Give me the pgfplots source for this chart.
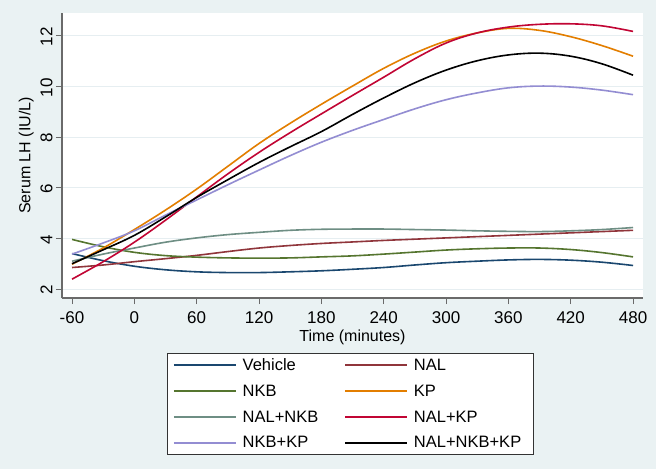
\documentclass[border=0pt]{standalone}
\usepackage{pgfplots}
\pgfplotsset{compat=1.18}
\usepackage{fontspec}
\setmainfont{Liberation Sans}
\definecolor{bgc}{HTML}{EAF2F3}
\definecolor{gridc}{HTML}{E6EEF1}
\definecolor{axc}{HTML}{6A6A6A}
\definecolor{cveh}{HTML}{1A476F}
\definecolor{cnal}{HTML}{90353B}
\definecolor{cnkb}{HTML}{55752F}
\definecolor{ckp}{HTML}{E37E00}
\definecolor{cnalnkb}{HTML}{6E8E84}
\definecolor{cnalkp}{HTML}{C10534}
\definecolor{cnkbkp}{HTML}{938DD2}
\begin{document}
\begin{tikzpicture}[x=1pt,y=1pt]
\fill[bgc] (0,0) rectangle (656,-469);
\begin{axis}[
  at={(62pt,-298pt)}, anchor=south west,
  scale only axis, width=581pt, height=285pt,
  xmin=-69.65, xmax=489.6, ymin=1.645, ymax=12.907,
  axis lines*=left,
  axis line style={-, draw=axc, line width=1.1pt},
  axis background/.style={fill=white},
  xtick={-60,0,60,...,480}, ytick={2,4,...,12},
  tick align=outside, major tick length=6pt,
  tick style={draw=axc, line width=1pt},
  ymajorgrids, grid style={draw=gridc, line width=1pt},
  /pgf/number format/assume math mode=true,
  ticklabel style={font=\fontsize{17}{20}\selectfont},
  yticklabel style={rotate=90, anchor=south, xshift=-1pt},
  xticklabel style={yshift=-4pt},
  xlabel={Time (minutes)}, ylabel={Serum LH (IU/L)},
  label style={font=\fontsize{16}{19}\selectfont},
  xlabel style={yshift=1pt},
  ylabel style={yshift=0pt},
  clip=false,
  legend columns=2,
  legend cell align=left,
  legend image code/.code={\draw[#1, line width=1.6pt] (0pt,0pt) -- (62pt,0pt);},
  legend style={at={(axis description cs:0.496,-0.193)}, anchor=north,
    draw=black!80, line width=0.8pt, fill=white,
    font=\fontsize{16.5}{19}\selectfont,
    inner xsep=6pt, inner ysep=5pt,
    row sep=13pt,
    /tikz/every even column/.append style={column sep=20pt},
    nodes={inner xsep=6pt, inner ysep=0pt}},
  every axis plot/.append style={line width=1.6pt, smooth, tension=0.6, no marks},
]
\addplot[cveh] coordinates {(-60,3.40)(-30,3.12)(0,2.90)(30,2.76)(60,2.68)(90,2.65)(120,2.65)(150,2.68)(180,2.72)(210,2.78)(240,2.85)(270,2.95)(300,3.04)(330,3.10)(360,3.15)(390,3.17)(420,3.14)(450,3.06)(480,2.93)};
\addlegendentry{Vehicle}
\addplot[cnal] coordinates {(-60,2.85)(-30,2.95)(0,3.08)(30,3.20)(60,3.33)(90,3.48)(120,3.62)(150,3.72)(180,3.80)(210,3.86)(240,3.92)(270,3.97)(300,4.02)(330,4.07)(360,4.12)(390,4.17)(420,4.22)(450,4.27)(480,4.32)};
\addlegendentry{NAL}
\addplot[cnkb] coordinates {(-60,3.96)(-30,3.67)(0,3.45)(30,3.32)(60,3.26)(90,3.23)(120,3.22)(150,3.23)(180,3.27)(210,3.31)(240,3.38)(270,3.46)(300,3.54)(330,3.59)(360,3.62)(390,3.62)(420,3.56)(450,3.44)(480,3.27)};
\addlegendentry{NKB}
\addplot[ckp] coordinates {(-60,2.98)(-30,3.62)(0,4.35)(30,5.12)(60,5.95)(90,6.85)(120,7.75)(150,8.55)(180,9.30)(210,10.02)(240,10.72)(270,11.32)(300,11.80)(330,12.12)(360,12.30)(390,12.22)(420,11.97)(450,11.62)(480,11.20)};
\addlegendentry{KP}
\addplot[cnalnkb] coordinates {(-60,3.10)(-30,3.38)(0,3.62)(30,3.85)(60,4.02)(90,4.15)(120,4.24)(150,4.32)(180,4.36)(210,4.37)(240,4.37)(270,4.35)(300,4.33)(330,4.30)(360,4.28)(390,4.27)(420,4.30)(450,4.35)(480,4.43)};
\addlegendentry{NAL+NKB}
\addplot[cnalkp] coordinates {(-60,2.39)(-30,3.08)(0,3.85)(30,4.72)(60,5.64)(90,6.55)(120,7.40)(150,8.18)(180,8.92)(210,9.65)(240,10.37)(270,11.10)(300,11.72)(330,12.12)(360,12.35)(390,12.46)(420,12.48)(450,12.40)(480,12.18)};
\addlegendentry{NAL+KP}
\addplot[cnkbkp] coordinates {(-60,3.38)(-30,3.82)(0,4.30)(30,4.92)(60,5.52)(90,6.12)(120,6.70)(150,7.27)(180,7.80)(210,8.27)(240,8.70)(270,9.12)(300,9.48)(330,9.75)(360,9.95)(390,10.02)(420,9.98)(450,9.86)(480,9.68)};
\addlegendentry{NKB+KP}
\addplot[black] coordinates {(-60,3.00)(-30,3.55)(0,4.12)(30,4.85)(60,5.62)(90,6.32)(120,7.00)(150,7.62)(180,8.22)(210,8.90)(240,9.55)(270,10.15)(300,10.65)(330,11.02)(360,11.25)(390,11.32)(420,11.20)(450,10.90)(480,10.45)};
\addlegendentry{NAL+NKB+KP}
\end{axis}
\end{tikzpicture}
\end{document}
